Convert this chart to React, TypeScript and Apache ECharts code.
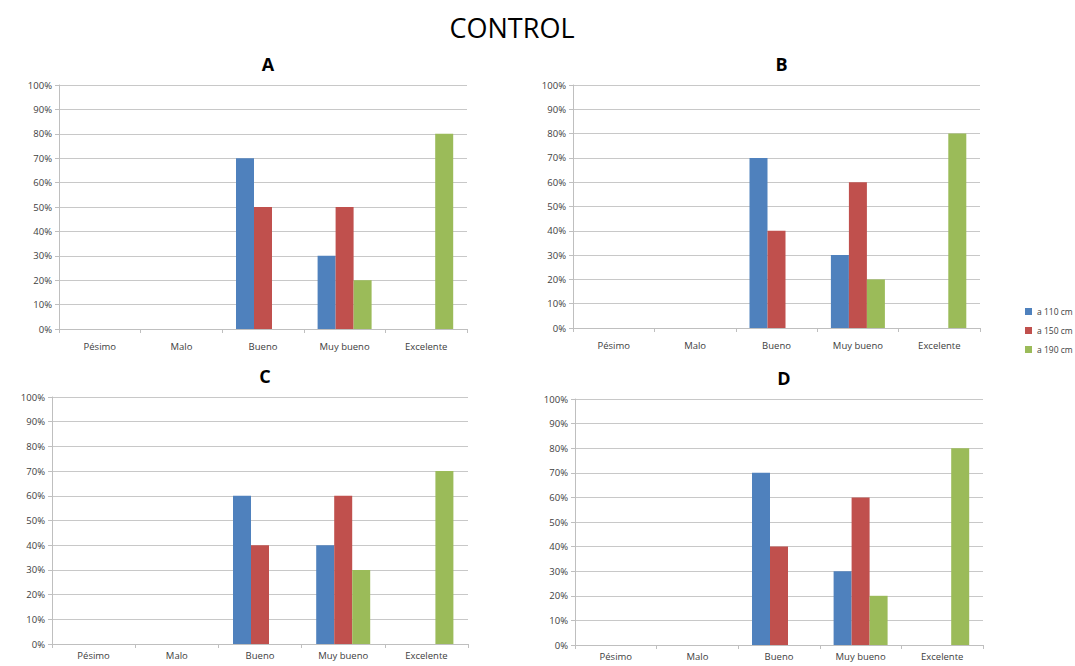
import React, { useEffect, useRef } from "react";
import * as echarts from "echarts";

const categories = ["Pésimo", "Malo", "Bueno", "Muy bueno", "Excelente"];
const seriesNames = ["a 110 cm", "a 150 cm", "a 190 cm"];
const colors = ["#4F81BD", "#C0504D", "#9BBB59"];
const yTicks = [0, 10, 20, 30, 40, 50, 60, 70, 80, 90, 100];

const panelTitles = ["A", "B", "C", "D"];
const panelA = [
  [0, 0, 70, 30, 0],
  [0, 0, 50, 50, 0],
  [0, 0, 0, 20, 80],
];
const panelB = [
  [0, 0, 70, 30, 0],
  [0, 0, 40, 60, 0],
  [0, 0, 0, 20, 80],
];
const panelC = [
  [0, 0, 60, 40, 0],
  [0, 0, 40, 60, 0],
  [0, 0, 0, 30, 70],
];
const panelD = [
  [0, 0, 70, 30, 0],
  [0, 0, 40, 60, 0],
  [0, 0, 0, 20, 80],
];
const panels = [panelA, panelB, panelC, panelD];

const grids = [
  { left: 59, top: 85, width: 408, height: 244 },
  { left: 573, top: 85, width: 407, height: 243 },
  { left: 52, top: 397, width: 416, height: 247 },
  { left: 575, top: 399, width: 408, height: 246 },
];

const FONT = "'Open Sans', 'Liberation Sans', sans-serif";

export default function App() {
  const ref = useRef<HTMLDivElement>(null);
  useEffect(() => {
    document.body.style.margin = "0";
    if (!ref.current) return;
    const chart = echarts.init(ref.current, null, { renderer: "svg" });
    const xAxis: any[] = [];
    const yAxis: any[] = [];
    const series: any[] = [];
    const titles: any[] = [
      {
        text: "CONTROL",
        left: 507,
        top: 9,
        textAlign: "center",
        textStyle: { fontFamily: FONT, fontSize: 27, fontWeight: 500, color: "#000" },
      },
    ];
    grids.forEach((g, i) => {
      titles.push({
        text: panelTitles[i],
        left: g.left + g.width / 2,
        top: g.top - 35,
        textAlign: "center",
        textStyle: { fontFamily: FONT, fontSize: 18, fontWeight: "bold", color: "#000" },
      });
      xAxis.push({
        type: "category",
        gridIndex: i,
        data: categories,
        axisLine: { lineStyle: { color: "#bfbfbf" } },
        axisTick: { show: true, length: 4, lineStyle: { color: "#bfbfbf" } },
        axisLabel: { fontFamily: FONT, fontSize: 9.5, color: "#404040", margin: i < 2 ? 12 : 6 },
      });
      yAxis.push({
        type: "value",
        gridIndex: i,
        min: 0,
        max: 100,
        interval: 10,
        axisLine: { show: true, lineStyle: { color: "#bfbfbf" } },
        axisTick: { show: true, length: 4, lineStyle: { color: "#bfbfbf" } },
        splitLine: { lineStyle: { color: "#c8c8c8", width: 1 } },
        axisLabel: {
          fontFamily: FONT,
          fontSize: 9.5,
          color: "#404040",
          margin: 7,
          formatter: (v: number) => (yTicks.includes(v) ? v + "%" : ""),
        },
      });
      panels[i].forEach((vals, s) => {
        series.push({
          type: "bar",
          name: seriesNames[s],
          xAxisIndex: i,
          yAxisIndex: i,
          data: vals,
          barWidth: 18,
          barGap: "0%",
          itemStyle: { color: colors[s] },
        });
      });
    });
    chart.setOption({
      animation: false,
      backgroundColor: "#ffffff",
      title: titles,
      grid: grids.map((g) => ({ ...g, containLabel: false })),
      xAxis,
      yAxis,
      series,
      legend: {
        data: seriesNames,
        orient: "vertical",
        left: 1020,
        top: 302,
        itemWidth: 7,
        itemHeight: 7,
        itemGap: 10,
        icon: "rect",
        textStyle: { fontFamily: FONT, fontSize: 8.5, color: "#404040" },
        selectedMode: false,
      },
    });
    return () => chart.dispose();
  }, []);
  return <div ref={ref} style={{ width: 1075, height: 666 }} />;
}
